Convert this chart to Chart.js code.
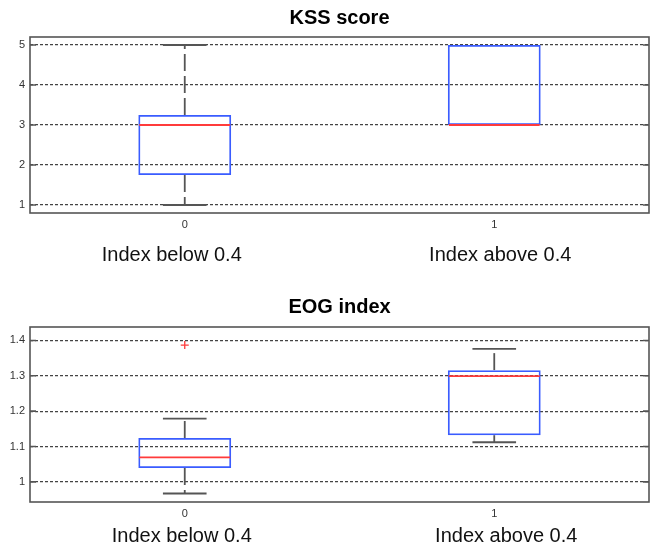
<!DOCTYPE html>
<html>
<head>
<meta charset="utf-8">
<script src="https://cdn.jsdelivr.net/npm/chart.js@4"></script>
<style>
body { margin: 0; background: #fff; width: 659px; height: 549px; overflow: hidden; }
.panel { position: absolute; left: 0; width: 659px; }
</style>
</head>
<body>
<div class="panel" style="top:0;height:280px"><canvas id="kss"></canvas></div>
<div class="panel" style="top:280px;height:269px"><canvas id="eog"></canvas></div>
<script>
// groups on the x axis
const groups = ['0', '1']
const groupNotes = ['Index below 0.4', 'Index above 0.4']

// KSS score
const kssLow = [1, 3]
const kssQ1 = [1.75, 3]
const kssMedian = [3, 3]
const kssQ3 = [3.25, 5]
const kssHigh = [5, 5]
const kssOutliers = [[], []]
const kssTicks = [1, 2, 3, 4, 5]
const kssTickLabels = ['1', '2', '3', '4', '5']

// EOG index
const eogLow = [0.967, 1.112]
const eogQ1 = [1.039, 1.132]
const eogMedian = [1.069, 1.299]
const eogQ3 = [1.124, 1.316]
const eogHigh = [1.179, 1.376]
const eogOutliers = [[1.387], []]
const eogTicks = [1, 1.1, 1.2, 1.3, 1.4]
const eogTickLabels = ['1', '1.1', '1.2', '1.3', '1.4']

const FONT = '"Liberation Sans", Arial, sans-serif'
const BOX_BLUE = '#3a5cff'
const MED_RED = '#ff3b3b'
const WHISKER = '#555'

// whiskers, medians, outliers, frame and the group notes
function boxParts(set, look) {
    return {
        id: 'boxParts',
        beforeDatasetsDraw(chart) {
            const ctx = chart.ctx
            const y = chart.scales.y
            const bars = chart.getDatasetMeta(0).data
            ctx.save()
            ctx.strokeStyle = WHISKER
            ctx.lineWidth = 1.8
            bars.forEach((bar, i) => {
                const cx = bar.x
                const cap = bar.width * 0.47 / 2
                // upper and lower whisker (skipped when it has no length)
                ;[[set.q3[i], set.high[i]], [set.q1[i], set.low[i]]].forEach(([from, to]) => {
                    if (from === to) return
                    const y0 = y.getPixelForValue(from)
                    const y1 = y.getPixelForValue(to)
                    ctx.setLineDash([17, 5])
                    ctx.beginPath()
                    ctx.moveTo(cx, y0)
                    ctx.lineTo(cx, y1)
                    ctx.stroke()
                    ctx.setLineDash([])
                    ctx.beginPath()
                    ctx.moveTo(cx - cap, y1)
                    ctx.lineTo(cx + cap, y1)
                    ctx.stroke()
                })
            })
            ctx.restore()
        },
        afterDatasetsDraw(chart) {
            const ctx = chart.ctx
            const y = chart.scales.y
            const bars = chart.getDatasetMeta(0).data
            ctx.save()
            ctx.strokeStyle = MED_RED
            ctx.lineWidth = 1.8
            bars.forEach((bar, i) => {
                const half = bar.width / 2
                const my = y.getPixelForValue(set.median[i])
                ctx.beginPath()
                ctx.moveTo(bar.x - half + 1, my)
                ctx.lineTo(bar.x + half - 1, my)
                ctx.stroke()
                ctx.lineWidth = 1.3
                set.outliers[i].forEach(v => {
                    const oy = y.getPixelForValue(v)
                    ctx.beginPath()
                    ctx.moveTo(bar.x - 4, oy)
                    ctx.lineTo(bar.x + 4, oy)
                    ctx.moveTo(bar.x, oy - 4)
                    ctx.lineTo(bar.x, oy + 4)
                    ctx.stroke()
                })
                ctx.lineWidth = 1.8
            })
            ctx.restore()
        },
        afterDraw(chart) {
            const ctx = chart.ctx
            const a = chart.chartArea
            const y = chart.scales.y
            const x = chart.scales.x
            ctx.save()
            ctx.strokeStyle = '#555'
            ctx.lineWidth = 1.6
            ctx.strokeRect(a.left, a.top, a.right - a.left, a.bottom - a.top)
            ctx.beginPath()
            set.ticks.forEach(v => {
                const ty = y.getPixelForValue(v)
                ctx.moveTo(a.left, ty)
                ctx.lineTo(a.left + 6, ty)
                ctx.moveTo(a.right, ty)
                ctx.lineTo(a.right - 6, ty)
            })
            ctx.stroke()
            ctx.fillStyle = '#111'
            ctx.font = '20px ' + FONT
            ctx.textAlign = 'center'
            ctx.textBaseline = 'middle'
            groupNotes.forEach((note, i) => {
                ctx.fillText(note, x.getPixelForValue(i) + look.noteShift[i], a.bottom + look.noteGap)
            })
            ctx.restore()
        }
    }
}

function makeBoxChart(id, set, look) {
    return new Chart(document.getElementById(id), {
        type: 'bar',
        data: {
            labels: groups,
            datasets: [{
                data: set.q1.map((v, i) => [v, set.q3[i]]),
                backgroundColor: 'rgba(0,0,0,0)',
                borderColor: BOX_BLUE,
                borderWidth: 1.8,
                borderSkipped: false,
                barPercentage: 0.3,
                categoryPercentage: 1
            }]
        },
        options: {
            animation: false,
            responsive: true,
            maintainAspectRatio: false,
            layout: { padding: { left: 0, right: 10, top: 0, bottom: 0 } },
            plugins: {
                legend: { display: false },
                tooltip: { enabled: false },
                title: {
                    display: true,
                    text: set.title,
                    fullSize: false,
                    color: '#000',
                    font: { family: FONT, size: 20, weight: 'bold' },
                    padding: { top: look.titleTop, bottom: look.titleBottom }
                }
            },
            scales: {
                x: {
                    offset: true,
                    grid: { display: false, drawTicks: false },
                    border: { display: false },
                    ticks: { color: '#333', font: { family: FONT, size: 11 }, padding: 5, maxRotation: 0 },
                    afterFit: s => { s.height = look.xHeight }
                },
                y: {
                    min: set.min,
                    max: set.max,
                    afterBuildTicks: s => { s.ticks = set.ticks.map(v => ({ value: v })) },
                    grid: { color: '#444', lineWidth: 1.2, drawTicks: false },
                    border: { display: false, dash: [3, 2] },
                    ticks: {
                        color: '#333',
                        font: { family: FONT, size: 11 },
                        padding: 5,
                        callback: (v, i) => set.tickLabels[i]
                    },
                    afterFit: s => { s.width = 30 }
                }
            }
        },
        plugins: [boxParts(set, look)]
    })
}

makeBoxChart('kss', {
    title: 'KSS score',
    low: kssLow, q1: kssQ1, median: kssMedian, q3: kssQ3, high: kssHigh,
    outliers: kssOutliers, ticks: kssTicks, tickLabels: kssTickLabels,
    min: 0.8, max: 5.2
}, { titleTop: 6, titleBottom: 7, xHeight: 67, noteGap: 42, noteShift: [-13, 6] })

makeBoxChart('eog', {
    title: 'EOG index',
    low: eogLow, q1: eogQ1, median: eogMedian, q3: eogQ3, high: eogHigh,
    outliers: eogOutliers, ticks: eogTicks, tickLabels: eogTickLabels,
    min: 0.943, max: 1.438
}, { titleTop: 15, titleBottom: 8, xHeight: 47, noteGap: 34, noteShift: [-3, 12] })
</script>
</body>
</html>
